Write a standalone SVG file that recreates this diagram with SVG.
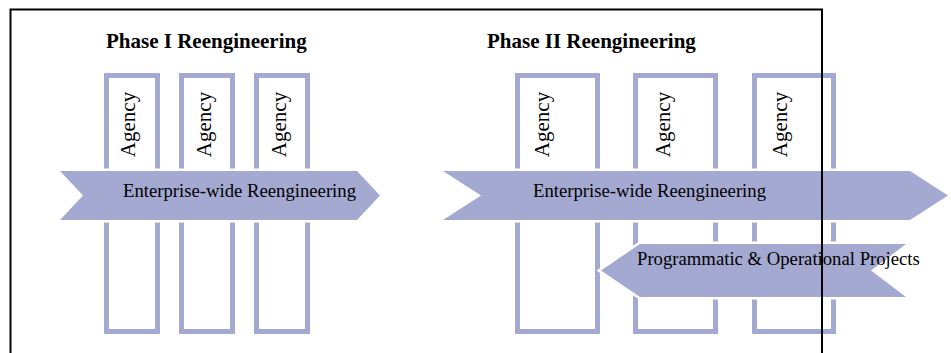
<svg xmlns="http://www.w3.org/2000/svg" width="951" height="353" viewBox="0 0 951 353">
  <style>
    .bg { fill: #ffffff; }
    .agency-box { fill: none; stroke: #a4a9d2; stroke-width: 5; }
    .band { fill: #a4a9d2; stroke: #ffffff; stroke-width: 5; stroke-linejoin: miter; paint-order: stroke; }
    .title { font-family: "Liberation Serif", "Times New Roman", serif; font-weight: bold; font-size: 21px; fill: #000; }
    .label { font-family: "Liberation Serif", "Times New Roman", serif; font-size: 18.7px; fill: #000; }
    .agency { font-family: "Liberation Serif", "Times New Roman", serif; font-size: 21px; fill: #000; text-anchor: middle; }
    .frame { fill: none; stroke: #000; stroke-width: 2; }
  </style>
  <rect class="bg" x="0" y="0" width="951" height="353"/>

  <!-- Phase I -->
  <g id="phase1-title"><text class="title" x="106" y="48">Phase I Reengineering</text></g>
  <g id="phase1-agency1">
    <rect class="agency-box" x="106.5" y="75.5" width="51" height="256"/>
    <text class="agency" transform="translate(135,124.5) rotate(-90)">Agency</text>
  </g>
  <g id="phase1-agency2">
    <rect class="agency-box" x="181.5" y="75.5" width="51" height="256"/>
    <text class="agency" transform="translate(211,124.5) rotate(-90)">Agency</text>
  </g>
  <g id="phase1-agency3">
    <rect class="agency-box" x="256.5" y="75.5" width="51" height="256"/>
    <text class="agency" transform="translate(286,124.5) rotate(-90)">Agency</text>
  </g>
  <g id="phase1-enterprise">
    <polygon class="band" points="60,171 357,171 380,195.5 357,220 60,220 83,195.5"/>
    <text class="label" x="123" y="197">Enterprise-wide Reengineering</text>
  </g>

  <!-- Phase II -->
  <g id="phase2-title"><text class="title" x="487" y="48">Phase II Reengineering</text></g>
  <g id="phase2-agency1">
    <rect class="agency-box" x="517.5" y="75.5" width="80" height="256"/>
    <text class="agency" transform="translate(549,124.5) rotate(-90)">Agency</text>
  </g>
  <g id="phase2-agency2">
    <rect class="agency-box" x="635.5" y="75.5" width="80" height="256"/>
    <text class="agency" transform="translate(670,124.5) rotate(-90)">Agency</text>
  </g>
  <g id="phase2-agency3">
    <rect class="agency-box" x="754.5" y="75.5" width="79" height="256"/>
    <text class="agency" transform="translate(787,124.5) rotate(-90)">Agency</text>
  </g>
  <g id="phase2-enterprise">
    <polygon class="band" points="443,171 910,171 948,195.5 910,220 443,220 481,195.5"/>
    <text class="label" x="533" y="197">Enterprise-wide Reengineering</text>
  </g>
  <g id="phase2-projects">
    <polygon class="band" points="640,244 906,244 871,270.5 906,297 640,297 601,270.5"/>
    <text class="label" x="637" y="265">Programmatic &amp; Operational Projects</text>
  </g>

  <!-- outer frame, drawn over everything -->
  <g id="frame">
    <rect class="frame" x="10.5" y="9.5" width="811.5" height="360"/>
  </g>
</svg>
